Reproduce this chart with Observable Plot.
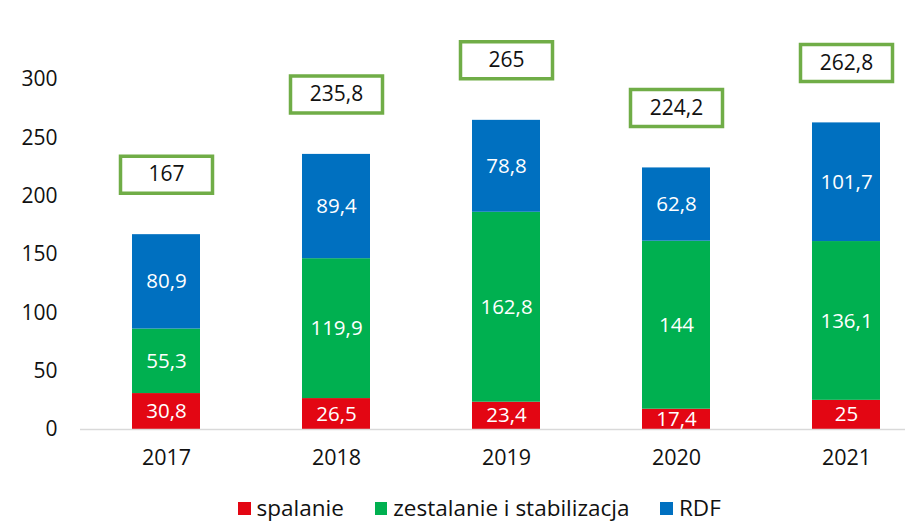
<!DOCTYPE html>
<html>
<head>
<meta charset="utf-8">
<script src="https://cdn.jsdelivr.net/npm/d3@7"></script>
<script src="https://cdn.jsdelivr.net/npm/@observablehq/plot@0.6"></script>
<style>
  html, body { margin: 0; padding: 0; background: #fff; }
  body { width: 910px; height: 523px; overflow: hidden; font-family: "Open Sans", sans-serif; position: relative; }
  #legend { position: absolute; left: 238px; top: 492px; display: flex; align-items: center; font-size: 22.5px; color: #111; }
  .item { display: flex; align-items: center; margin-right: 31px; }
  .sw { width: 12.5px; height: 12.5px; margin-right: 6px; margin-top: 2px; }
</style>
</head>
<body>
<div id="chart"></div>
<div id="legend"></div>
<script>
const years = ["2017", "2018", "2019", "2020", "2021"];
const seriesNames = ["spalanie", "zestalanie i stabilizacja", "RDF"];
const spalanie = [30.8, 26.5, 23.4, 17.4, 25];
const zestalanie = [55.3, 119.9, 162.8, 144, 136.1];
const rdf = [80.9, 89.4, 78.8, 62.8, 101.7];
const totals = [167, 235.8, 265, 224.2, 262.8];
const yTicks = [0, 50, 100, 150, 200, 250, 300];
const colors = ["#E30613", "#00B050", "#0070C0"];

const fmt = v => String(v).replace(".", ",");
const seriesValues = [spalanie, zestalanie, rdf];
const data = [];
seriesNames.forEach((s, si) => years.forEach((y, i) => data.push({year: y, series: s, value: seriesValues[si][i], order: si})));
const totalData = years.map((y, i) => ({year: y, total: totals[i]}));

const boxSymbol = {
  draw(context, size) {
    context.rect(-46, -18.5, 92, 37);
  }
};

const chart = Plot.plot({
  width: 910,
  height: 480,
  marginLeft: 80,
  marginRight: 5,
  marginTop: 79,
  marginBottom: 51,
  style: {fontFamily: "Open Sans, sans-serif", fontSize: "21px", color: "#111", background: "#fff"},
  x: {domain: years, paddingInner: 0.6, paddingOuter: 0.22, align: 0.67, label: null},
  y: {domain: [0, 300], ticks: yTicks, label: null},
  color: {domain: seriesNames, range: colors},
  marks: [
    Plot.axisY({ticks: yTicks, tickSize: 0, tickPadding: 23, label: null, fontSize: 21, fill: "#111"}),
    Plot.axisX({tickSize: 0, tickPadding: 20, label: null, fontSize: 21.5, fill: "#111"}),
    Plot.barY(data, Plot.stackY({x: "year", y: "value", fill: "series", order: "order"})),
    Plot.text(data, Plot.stackY({x: "year", y: "value", z: "series", order: "order", text: d => fmt(d.value), fill: "white", fontSize: 20.5})),
    Plot.ruleY([0], {stroke: "#d9d9d9", strokeWidth: 1.5}),
    Plot.dot(totalData, {x: "year", y: "total", dy: -60, symbol: boxSymbol, fill: "white", stroke: "#70AD47", strokeWidth: 3.5}),
    Plot.text(totalData, {x: "year", y: "total", dy: -60, text: d => fmt(d.total), fill: "#111", fontSize: 21})
  ]
});
document.getElementById("chart").appendChild(chart);

const legend = document.getElementById("legend");
seriesNames.forEach((s, i) => {
  const item = document.createElement("div");
  item.className = "item";
  const sw = document.createElement("div");
  sw.className = "sw";
  sw.style.background = colors[i];
  const label = document.createElement("span");
  label.textContent = s;
  item.appendChild(sw);
  item.appendChild(label);
  legend.appendChild(item);
});
</script>
</body>
</html>
